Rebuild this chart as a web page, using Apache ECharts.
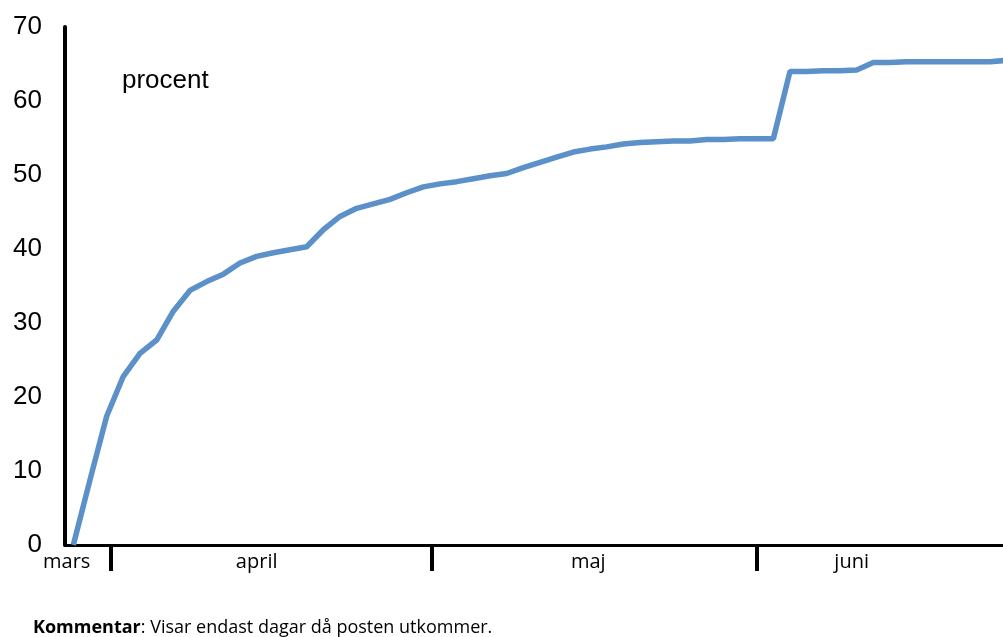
<!DOCTYPE html>
<html>
<head>
<meta charset="utf-8">
<script src="https://cdn.jsdelivr.net/npm/echarts@6/dist/echarts.min.js"></script>
<style>
  html, body { margin: 0; padding: 0; background: #fff; }
  #chart-target { width: 1003px; height: 637px; }
</style>
</head>
<body>
<div id="chart-target"></div>
<script>
  // andel (procent) per utdelningsdag, dag 0 = första dagen i mars
  const values = [
    0, 8.8, 17.4, 22.8, 25.9, 27.7, 31.6, 34.4, 35.6, 36.6,
    38.1, 39.0, 39.5, 39.9, 40.3, 42.6, 44.4, 45.5, 46.1, 46.7,
    47.6, 48.4, 48.8, 49.1, 49.5, 49.9, 50.2, 51.0, 51.7, 52.4,
    53.1, 53.5, 53.8, 54.2, 54.4, 54.5, 54.6, 54.6, 54.8, 54.8,
    54.9, 54.9, 54.9, 64.0, 64.0, 64.1, 64.1, 64.2, 65.2, 65.2,
    65.3, 65.3, 65.3, 65.3, 65.3, 65.3, 65.5
  ]
  const months = ['mars', 'april', 'maj', 'juni']
  const monthCenters = [-0.4, 11.0, 30.9, 46.7]   // var månadsnamnet står (dagindex)
  const monthBreaks = [2.25, 21.5, 41.0]          // avdelare mellan månaderna
  const yTicks = [0, 10, 20, 30, 40, 50, 60, 70]

  const points = values.map((v, i) => [i, v])

  let myChart = echarts.init(document.getElementById('chart-target'))
  myChart.setOption({
    animation: false,
    title: [
      {
        text: 'procent',
        left: 122,
        top: 68,
        padding: 0,
        textStyle: {
          fontFamily: 'Liberation Sans',
          fontSize: 26,
          fontWeight: 'normal',
          color: '#000'
        }
      },
      {
        text: '{b|Kommentar}: Visar endast dagar då posten utkommer.',
        left: 33,
        top: 619,
        padding: 0,
        textStyle: {
          fontFamily: 'Open Sans',
          fontSize: 18,
          fontWeight: 'normal',
          color: '#000',
          rich: {
            b: { fontFamily: 'Open Sans', fontSize: 18, fontWeight: 'bold', color: '#000' }
          }
        }
      }
    ],
    grid: {
      left: 65,
      right: -12,
      top: 27,
      bottom: 92,
      outerBoundsMode: 'none'
    },
    xAxis: {
      type: 'value',
      min: -0.5,
      max: values.length - 0.5,
      splitLine: { show: false },
      axisLine: { onZero: false, lineStyle: { color: '#000', width: 3 } },
      axisTick: {
        customValues: monthBreaks,
        length: 26,
        lineStyle: { color: '#000', width: 4 }
      },
      axisLabel: {
        customValues: monthCenters,
        formatter: (v) => months[monthCenters.indexOf(v)],
        margin: 7,
        fontFamily: 'Open Sans',
        fontSize: 20,
        color: '#000'
      }
    },
    yAxis: {
      type: 'value',
      min: yTicks[0],
      max: yTicks[yTicks.length - 1],
      interval: 10,
      splitLine: { show: false },
      axisLine: { show: true, onZero: false, lineStyle: { color: '#000', width: 4 } },
      axisTick: { show: false },
      axisLabel: {
        margin: 23,
        fontFamily: 'Liberation Sans',
        fontSize: 26,
        color: '#000'
      }
    },
    series: [
      {
        type: 'line',
        data: points,
        symbol: 'none',
        clip: false,
        lineStyle: { color: '#5b90c8', width: 5.5 }
      }
    ]
  })
</script>
</body>
</html>
